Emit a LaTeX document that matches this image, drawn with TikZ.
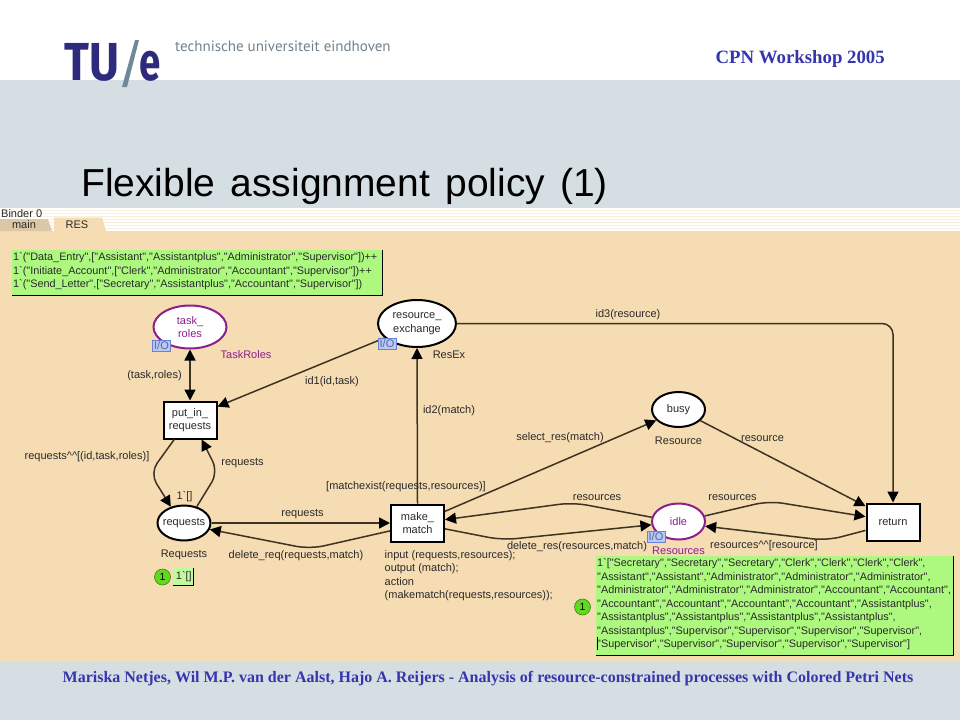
\documentclass[tikz,border=0pt]{standalone}
\usepackage{fontspec}
\setmainfont{Liberation Serif}
\newfontfamily\cpnfont{Liberation Sans}
\newfontfamily\logofont[FakeStretch=0.86]{Fira Sans}
\newfontfamily\logoefont[FakeStretch=0.72]{Fira Sans}
\newfontfamily\unifont{PT Sans}
\usetikzlibrary{arrows.meta,shapes.geometric}
\definecolor{band}{HTML}{D5DFE3}
\definecolor{sheet}{HTML}{F5DCB3}
\definecolor{tabdark}{HTML}{DCC8A6}
\definecolor{navy}{HTML}{2E2A7C}
\definecolor{headblue}{HTML}{3535AD}
\definecolor{slash}{HTML}{6E8A99}
\definecolor{unigray}{HTML}{71828D}
\definecolor{marking}{HTML}{ADF97F}
\definecolor{markinglight}{HTML}{BFFB9C}
\definecolor{tokengreen}{HTML}{62D81F}
\definecolor{fusion}{HTML}{8C1F8C}
\definecolor{iofill}{HTML}{B9C9F2}
\definecolor{ioline}{HTML}{6A80D4}
\definecolor{arcline}{HTML}{3D3322}
\definecolor{ink}{HTML}{2A2A2A}
\tikzset{
	lbl/.style={font=\cpnfont\fontsize{11}{13.5}\selectfont,inner sep=0pt,text=ink},
	lab/.style={lbl,yshift=-1.5pt},
	code/.style={lbl,align=left},
	place/.style={draw=black,line width=2pt,fill=white,ellipse,inner sep=0pt,lbl,align=center},
	fusionplace/.style={place,draw=fusion,text=fusion},
	trans/.style={draw=black,line width=2pt,fill=white,rectangle,inner sep=0pt,lbl,align=center,minimum width=53pt,minimum height=37pt},
	arc/.style={draw=arcline,line width=1.5pt,-{Triangle[length=11pt,width=11pt,color=black]}},
	arcboth/.style={arc,{Triangle[length=11pt,width=11pt,color=black]}-{Triangle[length=11pt,width=11pt,color=black]}},
	iotag/.style={draw=ioline,fill=iofill,line width=1pt,inner sep=0pt,minimum width=18pt,minimum height=11pt,font=\cpnfont\fontsize{11}{11}\selectfont,text=ioline!80!black},
	markbox/.style={fill=marking,inner sep=0pt,anchor=north west,code,font=\cpnfont\fontsize{10.85}{13.5}\selectfont},
	token/.style={circle,draw=tokengreen!60!black,fill=tokengreen,line width=.6pt,inner sep=0pt,minimum size=16pt,font=\cpnfont\fontsize{10.5}{10.5}\selectfont,text=black},
}
\begin{document}
\begin{tikzpicture}[x=1pt,y=-1pt]
	\useasboundingbox (0,0) rectangle (960,720);
	\fill[white] (0,0) rectangle (960,720);
	\fill[band] (0,80) rectangle (960,720);
	\fill[white] (0,208) rectangle (960,232);
	\foreach \ypos in {210,213,...,229}
		\draw[sheet!45!white,line width=1pt] (0,\ypos) -- (960,\ypos);
	\fill[sheet] (0,231) rectangle (960,662);
	\fill[tabdark] (0,219) -- (48,219) -- (52,231) -- (0,231) -- cycle;
	\fill[sheet] (54,231) -- (54,217.5) -- (102,217.5) -- (106,231) -- cycle;

	\node[font=\logofont\bfseries\fontsize{53.5}{53.5}\selectfont,text=navy,inner sep=0pt,anchor=base west] (tu) at (64,80) {TU};
	\node[font=\logoefont\bfseries\fontsize{53.5}{53.5}\selectfont,text=navy,inner sep=0pt,anchor=base west] (e) at (139,80) {e};
	\fill[slash] (135,40) -- (139,40) -- (127,87) -- (122,87) -- cycle;
	\node[font=\unifont\fontsize{15}{15}\selectfont,text=unigray,inner sep=0pt,anchor=west] (uni) at (175,46.5) {technische universiteit eindhoven};
	\node[font=\bfseries\fontsize{18.8}{18.8}\selectfont,text=headblue,inner sep=0pt,anchor=base east] (workshop) at (885,63) {CPN Workshop 2005};
	\node[font=\cpnfont\fontsize{39}{39}\selectfont,text=black,inner sep=0pt,anchor=base west] (title) at (81,196) {\spaceskip=15.2pt Flexible assignment policy (1)};
	\node[font=\bfseries\fontsize{16}{16}\selectfont,text=headblue,inner sep=0pt,anchor=base] (authors) at (488,682.5) {Mariska Netjes, Wil M.P. van der Aalst, Hajo A. Reijers - Analysis of resource-constrained processes with Colored Petri Nets};

	\node[lbl,anchor=west] (binder) at (1,213.5) {Binder 0};
	\node[lbl] (tabmain) at (24,225) {main};
	\node[lbl] (tabres) at (77,225) {RES};

	\node[fusionplace,minimum width=73pt,minimum height=43pt] (taskroles) at (190,327) {task\_\\roles};
	\node[place,minimum width=78pt,minimum height=47pt] (resex) at (417,323.5) {resource\_\\exchange};
	\node[trans] (putin) at (190,420) {put\_in\_\\requests};
	\node[place,minimum width=53pt,minimum height=35pt] (busy) at (678.5,409.5) {busy};
	\node[place,inner xsep=-3pt,minimum width=53pt,minimum height=35pt] (requests) at (184,523) {requests};
	\node[fusionplace,minimum width=53pt,minimum height=36pt] (idle) at (678.5,521.5) {idle};
	\node[trans] (make) at (417.5,523) {make\_\\match};
	\node[trans] (return) at (893,522) {return};

	\draw[arcboth] (taskroles.south) -- (putin.north);
	\draw[arc] (resex.204) -- (putin.26);
	\draw[arc,rounded corners=12pt] (putin.-129) -- (150,473) -- (requests.129);
	\draw[arc,rounded corners=12pt] (requests.52) -- (218,472) -- (putin.-59);
	\draw[arc] (requests.east) -- (make.west);
	\draw[arc,rounded corners=14pt] (make.-164) -- (310,549) -- (requests.-14);
	\draw[arc] (make.north) -- (resex.south);
	\draw[arc,rounded corners=11pt] (resex.east) -| (return.north);
	\draw[arc] (make.23) -- (busy.206);
	\draw[arc] (busy.-27) -- (return.150);
	\draw[arc,rounded corners=14pt] (idle.171) -- (573,502.5) -- (make.7);
	\draw[arc,rounded corners=14pt] (make.-12) -- (502,540) -- (idle.-173);
	\draw[arc,rounded corners=14pt] (idle.12) -- (769,501) -- (return.169);
	\draw[arc,rounded corners=14pt] (return.197) -- (827,540.5) -- (idle.-10);

	\node[iotag] (iotask) at (161.5,346) {I/O};
	\node[iotag] (iores) at (387,343.5) {I/O};
	\node[iotag] (ioidle) at (656,537) {I/O};

	\node[lab,text=fusion] (tasktype) at (246,353) {TaskRoles};
	\node[lab] (restype) at (449,353) {ResEx};
	\node[lab] (busytype) at (678.5,439) {Resource};
	\node[lab,text=fusion] (idletype) at (678.5,549.5) {Resources};
	\node[lab] (reqtype) at (184,553) {Requests};
	\node[lab] (reqinit) at (184.5,495) {1`[]};

	\node[lab] (lbtask) at (154.5,374) {(task,roles)};
	\node[lab] (lbidone) at (332,380) {id1(id,task)};
	\node[lab] (lbidtwo) at (449,409) {id2(match)};
	\node[lab] (lbidthree) at (628,313) {id3(resource)};
	\node[lab] (lbappend) at (87,455) {requests\textasciicircum\textasciicircum[(id,task,roles)]};
	\node[lab] (lbback) at (242.5,462) {requests};
	\node[lab] (lbreq) at (302.5,513) {requests};
	\node[lab] (lbdelreq) at (296,554) {delete\_req(requests,match)};
	\node[lab] (lbguard) at (406,485) {[matchexist(requests,resources)]};
	\node[lab] (lbselect) at (560,436) {select\_res(match)};
	\node[lab] (lbres) at (762.5,437) {resource};
	\node[lab] (lbresa) at (597,496) {resources};
	\node[lab] (lbresb) at (732.5,496) {resources};
	\node[lab] (lbdelres) at (577,545) {delete\_res(resources,match)};
	\node[lab] (lbresc) at (764,544) {resources\textasciicircum\textasciicircum[resource]};

	\node[code,anchor=north west] (action) at (384.5,550) {input (requests,resources);\\output (match);\\action\\(makematch(requests,resources));};

	\node[markbox,minimum width=370pt,minimum height=45pt,text width=368pt,inner xsep=1pt] (rolesbox) at (12,250) {1`("Data\_Entry",["Assistant","Assistantplus","Administrator","Supervisor"])++\\
1`("Initiate\_Account",["Clerk","Administrator","Accountant","Supervisor"])++\\
1`("Send\_Letter",["Secretary","Assistantplus","Accountant","Supervisor"])\par\vspace*{3pt}};
	\draw[black,line width=1pt] (rolesbox.south west) -- (rolesbox.south east) -- (rolesbox.north east);

	\node[markbox,minimum width=357pt,minimum height=99pt,text width=355pt,inner xsep=1pt] (staffbox) at (596,556) {1`["Secretary","Secretary","Secretary","Clerk","Clerk","Clerk","Clerk",\\
"Assistant","Assistant","Administrator","Administrator","Administrator",\\
"Administrator","Administrator","Administrator","Accountant","Accountant",\\
"Accountant","Accountant","Accountant","Accountant","Assistantplus",\\
"Assistantplus","Assistantplus","Assistantplus","Assistantplus",\\
"Assistantplus","Supervisor","Supervisor","Supervisor","Supervisor",\\
"Supervisor","Supervisor","Supervisor","Supervisor","Supervisor"]\par\vspace*{3pt}};
	\draw[black,line width=1pt] (staffbox.south west) -- (staffbox.south east) -- (staffbox.north east);
	\draw[black,line width=.8pt] (597,637) -- (597,650);
	\node[token] (tokenstaff) at (582.5,607) {1};

	\node[markbox,fill=markinglight,minimum width=20pt,minimum height=17pt] (reqbox) at (172.7,568) {\,1`[]};
	\draw[black,line width=1pt] (reqbox.south west) -- (reqbox.south east) -- (reqbox.north east);
	\node[token] (tokenreq) at (162.5,577) {1};
\end{tikzpicture}
\end{document}
